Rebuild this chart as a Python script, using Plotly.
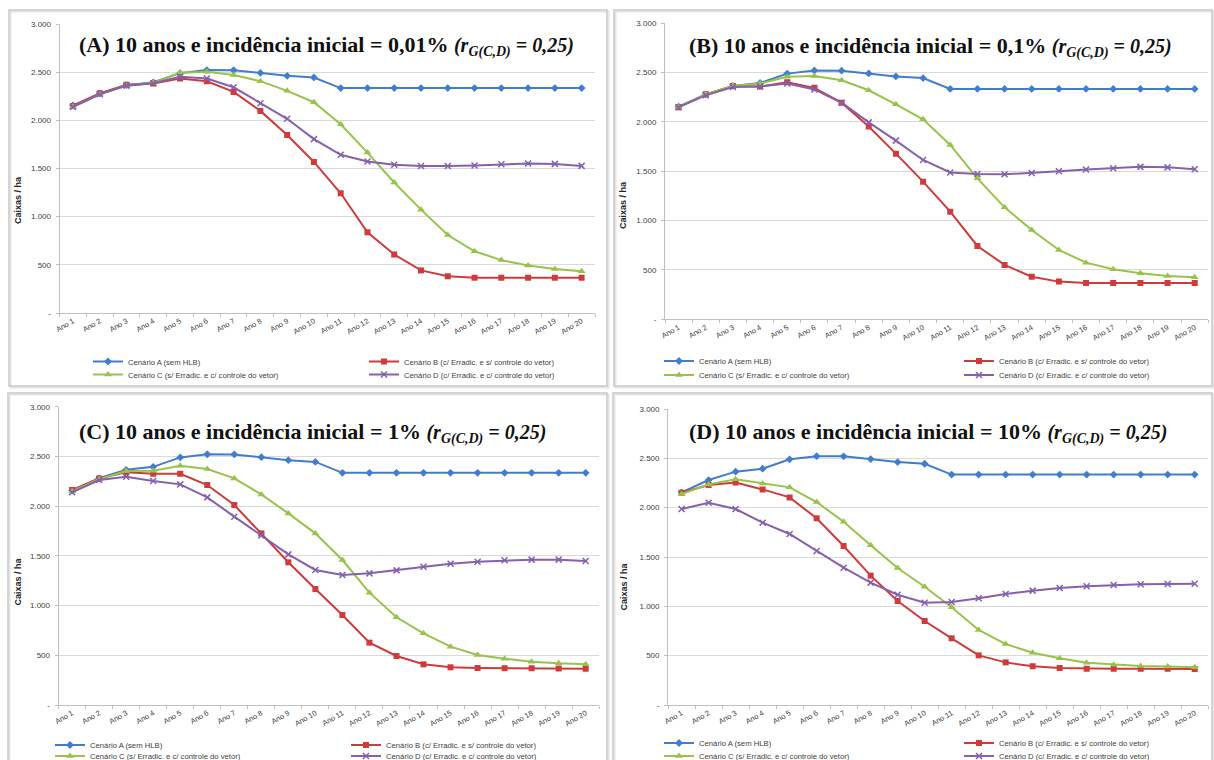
import plotly.graph_objects as go

W, H = 1214, 760

# Categories
anos = [f"Ano {i}" for i in range(1, 21)]

# Cenário A (sem HLB) – same reference curve in every panel
cenario_a = [2155, 2280, 2365, 2395, 2490, 2522, 2520, 2492, 2462, 2445,
             2335, 2335, 2335, 2335, 2335, 2335, 2335, 2335, 2335, 2335]

# (A) incidência inicial = 0,01%
a_cen_b = [2150, 2280, 2370, 2382, 2434, 2405, 2295, 2098, 1847, 1568,
           1243, 838, 607, 442, 381, 366, 366, 366, 366, 366]
a_cen_c = [2140, 2270, 2360, 2390, 2493, 2505, 2470, 2407, 2306, 2188,
           1960, 1665, 1355, 1073, 809, 641, 549, 494, 457, 433]
a_cen_d = [2140, 2270, 2360, 2385, 2452, 2435, 2343, 2178, 2016, 1805,
           1642, 1572, 1538, 1526, 1525, 1532, 1544, 1552, 1548, 1527]

# (B) incidência inicial = 0,1%
b_cen_b = [2150, 2280, 2365, 2360, 2402, 2346, 2196, 1953, 1679, 1395,
           1091, 743, 551, 432, 382, 367, 367, 367, 367, 367]
b_cen_c = [2150, 2280, 2365, 2390, 2459, 2466, 2422, 2321, 2179, 2027,
           1767, 1429, 1135, 905, 703, 574, 507, 466, 439, 426]
b_cen_d = [2150, 2270, 2355, 2360, 2390, 2330, 2195, 1996, 1811, 1615,
           1488, 1472, 1470, 1483, 1500, 1518, 1530, 1545, 1540, 1520]

# (C) incidência inicial = 1%
c_cen_b = [2162, 2279, 2340, 2325, 2325, 2212, 2011, 1726, 1435, 1166,
           905, 627, 493, 409, 379, 372, 370, 370, 368, 365]
c_cen_c = [2150, 2270, 2353, 2356, 2407, 2373, 2279, 2118, 1927, 1726,
           1458, 1130, 882, 721, 587, 503, 466, 436, 419, 409]
c_cen_d = [2139, 2263, 2296, 2253, 2219, 2088, 1894, 1706, 1515, 1358,
           1307, 1324, 1354, 1391, 1421, 1441, 1455, 1462, 1462, 1448]

# (D) incidência inicial = 10%
d_cen_b = [2152, 2229, 2256, 2185, 2104, 1892, 1611, 1311, 1054, 851,
           676, 503, 432, 392, 375, 368, 367, 367, 367, 365]
d_cen_c = [2138, 2236, 2287, 2246, 2206, 2057, 1858, 1618, 1388, 1199,
           990, 760, 618, 530, 473, 429, 409, 395, 390, 382]
d_cen_d = [1986, 2050, 1986, 1848, 1733, 1561, 1392, 1240, 1118, 1037,
           1044, 1081, 1125, 1159, 1186, 1203, 1216, 1224, 1226, 1228]

series_names = [
    "Cenário A (sem HLB)",
    "Cenário B (c/ Erradic. e s/ controle do vetor)",
    "Cenário C (s/ Erradic. e c/ controle do vetor)",
    "Cenário D (c/ Erradic. e c/ controle do vetor)",
]

panel_titles = [
    "(A) 10 anos e incidência inicial = 0,01%",
    "(B) 10 anos e incidência inicial = 0,1%",
    "(C) 10 anos e incidência inicial = 1%",
    "(D) 10 anos e incidência inicial = 10%",
]
title_suffix = "(r<sub>G(C,D)</sub> = 0,25)"

y_tickvals = [0, 500, 1000, 1500, 2000, 2500, 3000]
y_ticktext = ["-", "500", "1.000", "1.500", "2.000", "2.500", "3.000"]
y_title = "Caixas / ha"

panels_data = [
    [cenario_a, a_cen_b, a_cen_c, a_cen_d],
    [cenario_a, b_cen_b, b_cen_c, b_cen_d],
    [cenario_a, c_cen_b, c_cen_c, c_cen_d],
    [cenario_a, d_cen_b, d_cen_c, d_cen_d],
]

# ---- styling / layout (pixel geometry) ----
colors = ["#417dcd", "#cf3b3b", "#98c34a", "#8460ad"]
symbols = ["diamond", "square", "triangle-up", "x-thin"]
msizes = [6, 6, 7, 6]

# plot areas: (left, right, top, bottom) in px
plot_px = [
    (59.6, 595.0, 24.0, 313.0),
    (665.0, 1208.3, 23.3, 319.3),
    (58.6, 599.2, 406.7, 705.0),
    (668.1, 1208.2, 409.0, 705.0),
]
# panel frames: (x0, y0, x1, y1) in px
frames_px = [
    (9, 10, 607, 386),
    (614, 10, 1212, 386),
    (8, 393, 607, 775),
    (613, 393, 1212, 775),
]
title_pos = [(326, 46), (930, 46.5), (312, 432.5), (928, 432.5)]
ytitle_pos = [(18, 200), (623, 205), (17.5, 582), (623.5, 587)]
# legend rows: (text start x of left column, gap to right column, row1 y, row2 y)
legend_px = [(128, 276, 361.5, 374.5), (699, 300, 361, 375),
             (90, 296, 745, 756), (699, 300, 743, 756)]


def fx(px):
    return px / W


def fy(py):
    return 1 - py / H


fig = go.Figure()

for p, data in enumerate(panels_data):
    ax = "" if p == 0 else str(p + 1)
    leg1 = "legend" if p == 0 else f"legend{2 * p + 1}"
    leg2 = f"legend{2 * p + 2}"
    for s in range(4):
        marker = dict(symbol=symbols[s], size=msizes[s], color=colors[s])
        if symbols[s] == "x-thin":
            marker["line"] = dict(color=colors[s], width=1.5)
        fig.add_trace(go.Scatter(
            x=anos, y=data[s], name=series_names[s],
            mode="lines+markers",
            line=dict(color=colors[s], width=2),
            marker=marker,
            xaxis="x" + ax, yaxis="y" + ax,
            legend=leg1 if s < 2 else leg2,
            hoverinfo="skip",
        ))

layout = dict(
    width=W, height=H,
    margin=dict(l=0, r=0, t=0, b=0, autoexpand=False),
    paper_bgcolor="white", plot_bgcolor="white",
    font=dict(family="Liberation Sans, Arial, sans-serif", color="#404040"),
    shapes=[], annotations=[],
)

for p in range(4):
    l, r, t, b = plot_px[p]
    ax = "" if p == 0 else str(p + 1)
    layout["xaxis" + ax] = dict(
        domain=[fx(l), fx(r)], anchor="y" + ax,
        type="category", categoryorder="array", categoryarray=anos,
        range=[-0.5, 19.5], tickson="boundaries",
        ticks="outside", ticklen=3, tickcolor="#bfbfbf",
        showline=True, linecolor="#bfbfbf", linewidth=1,
        showgrid=False, tickangle=-30,
        tickfont=dict(size=7.5, color="#404040"),
    )
    layout["yaxis" + ax] = dict(
        domain=[fy(b), fy(t)], anchor="x" + ax,
        range=[0, 3000], tickvals=y_tickvals, ticktext=y_ticktext,
        showgrid=True, gridcolor="#d9d9d9", gridwidth=1,
        showline=True, linecolor="#bfbfbf", linewidth=1,
        ticks="outside", ticklen=3, tickcolor="#bfbfbf",
        ticklabelstandoff=3, zeroline=False,
        tickfont=dict(size=8, color="#404040"),
    )

    # panel frame with a soft shadow
    x0, y0, x1, y1 = frames_px[p]
    layout["shapes"].append(dict(
        type="rect", xref="paper", yref="paper",
        x0=fx(x0 + 1.5), x1=fx(x1 + 1.5), y0=fy(y1 + 1.5), y1=fy(y0 + 1.5),
        line=dict(color="#e4e4e4", width=2), layer="below"))
    layout["shapes"].append(dict(
        type="rect", xref="paper", yref="paper",
        x0=fx(x0), x1=fx(x1), y0=fy(y1), y1=fy(y0),
        line=dict(color="#c9c9c9", width=1.5), layer="below"))

    # panel title
    tx, ty = title_pos[p]
    layout["annotations"].append(dict(
        xref="paper", yref="paper", x=fx(tx), y=fy(ty),
        xanchor="center", yanchor="middle", showarrow=False,
        text=f"<b>{panel_titles[p]} <i><span style='font-size:20px'>{title_suffix}</span></i></b>",
        font=dict(family="Liberation Serif, Times New Roman, serif", size=22, color="#111111"),
    ))

    # y-axis title
    yx, yy = ytitle_pos[p]
    layout["annotations"].append(dict(
        xref="paper", yref="paper", x=fx(yx), y=fy(yy),
        xanchor="center", yanchor="middle", showarrow=False, textangle=-90,
        text=f"<b>{y_title}</b>",
        font=dict(size=9, color="#262626"),
    ))

    # legends: two rows, two columns
    lx, gap, r1, r2 = legend_px[p]
    for k, ry in enumerate((r1, r2)):
        key = "legend" if (p == 0 and k == 0) else f"legend{2 * p + k + 1}"
        layout[key] = dict(
            orientation="h", xref="paper", yref="paper",
            x=fx(lx - 40), y=fy(ry - 14.5), xanchor="left", yanchor="top",
            bgcolor="rgba(0,0,0,0)", borderwidth=0,
            itemwidth=30, entrywidth=gap - 45, entrywidthmode="pixels",
            font=dict(size=7.7, color="#404040"),
            itemclick=False, itemdoubleclick=False,
        )

fig.update_layout(**layout)
fig.write_html("out.html")
